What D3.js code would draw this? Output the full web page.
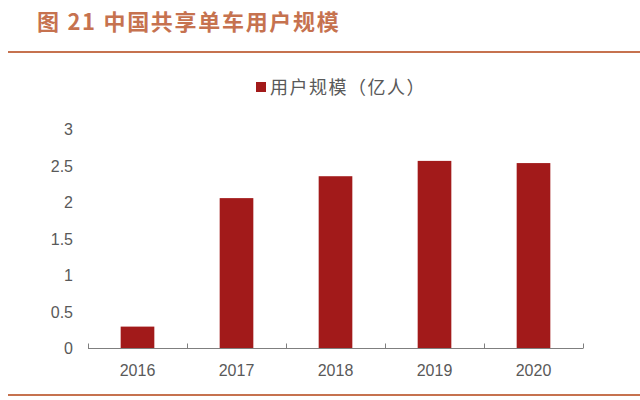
<!DOCTYPE html>
<html><head><meta charset="utf-8">
<script src="https://cdn.jsdelivr.net/npm/d3@7"></script>
<style>body{margin:0;background:#fff;} svg{display:block;}</style>
</head><body>
<svg id="c" width="640" height="400"></svg>
<script>
const categories = ["2016","2017","2018","2019","2020"];
const values = [0.3, 2.06, 2.36, 2.57, 2.54];
const yTicks = [0, 0.5, 1, 1.5, 2, 2.5, 3];
const titleText = "图 21 中国共享单车用户规模";
const seriesName = "用户规模（亿人）";

const svg = d3.select("#c");
const font = "'Noto Sans CJK SC', 'Liberation Sans', Arial, sans-serif";
const titleColor = "#c6724f";
const barColor = "#a21a1a";
const textColor = "#595959";

svg.append("text").attr("x", 37).attr("y", 30)
  .attr("font-family", font).attr("font-weight", "bold").attr("font-size", 22)
  .attr("letter-spacing", 1.7)
  .attr("fill", titleColor).text(titleText);
svg.append("line").attr("x1", 8).attr("x2", 640).attr("y1", 52).attr("y2", 52)
  .attr("stroke", titleColor).attr("stroke-width", 2);
svg.append("line").attr("x1", 8).attr("x2", 640).attr("y1", 395).attr("y2", 395)
  .attr("stroke", titleColor).attr("stroke-width", 2);

const x = d3.scaleBand().domain(categories).range([88, 583]).paddingInner(0.66).paddingOuter(0.33);
const y = d3.scaleLinear().domain([0, 3]).range([348.5, 129.5]);

svg.selectAll("rect.bar").data(values).join("rect").attr("class","bar")
  .attr("x", (d,i) => x(categories[i])).attr("width", x.bandwidth())
  .attr("y", d => y(d)).attr("height", d => y(0) - y(d)).attr("fill", barColor);

// y labels
svg.append("g").selectAll("text").data(yTicks).join("text")
  .attr("x", 73).attr("y", d => y(d)).attr("dy", "0.35em")
  .attr("text-anchor", "end").attr("font-family", "'Liberation Sans', Arial, sans-serif")
  .attr("font-size", 16).attr("fill", textColor).text(d => d);

// x axis
const xAxis = d3.axisBottom(d3.scaleLinear().domain([0, 5]).range([88, 583]))
  .tickValues([0,1,2,3,4,5]).tickSize(-5).tickFormat("");
const gx = svg.append("g").attr("transform", `translate(0,${y(0)})`).call(xAxis);
gx.select(".domain").attr("stroke", "#7f7f7f").attr("d", "M88,0H583");
gx.selectAll(".tick line").attr("stroke", "#7f7f7f").attr("y2", -5);

svg.append("g").selectAll("text").data(categories).join("text")
  .attr("x", d => x(d) + x.bandwidth()/2).attr("y", 376)
  .attr("text-anchor", "middle").attr("font-family", "'Liberation Sans', Arial, sans-serif")
  .attr("font-size", 16).attr("fill", textColor).text(d => d);

// legend
svg.append("rect").attr("x", 256).attr("y", 82).attr("width", 10).attr("height", 10).attr("fill", barColor);
svg.append("text").attr("x", 270).attr("y", 93.5)
  .attr("font-family", font).attr("font-size", 18).attr("letter-spacing", 1.5)
  .attr("fill", textColor).text(seriesName);
</script>
</body></html>
